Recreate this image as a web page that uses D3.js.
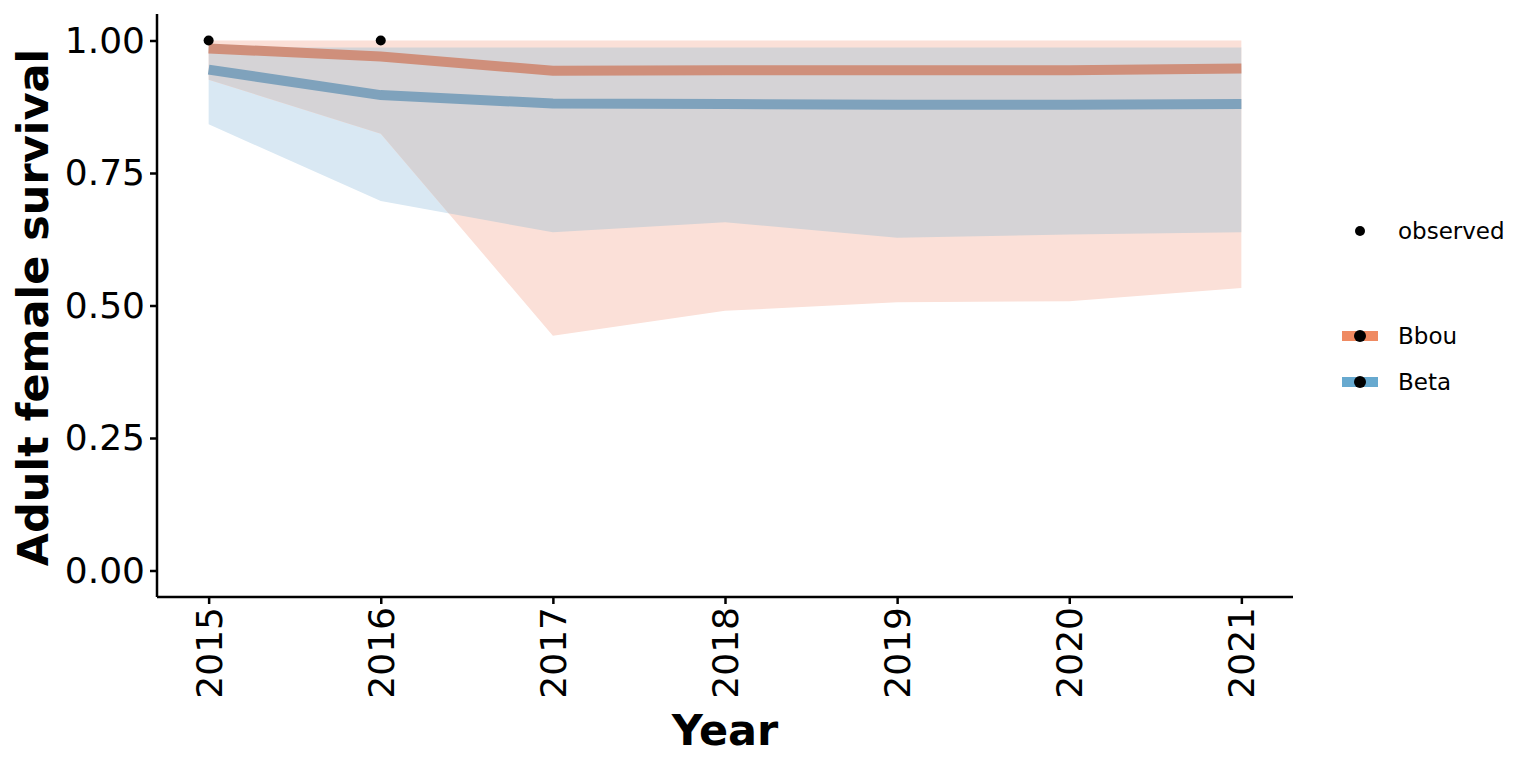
<!DOCTYPE html>
<html>
<head>
<meta charset="utf-8">
<script src="https://cdn.jsdelivr.net/npm/d3@7"></script>
<style>
  html, body { margin: 0; padding: 0; background: #fff; }
  svg { display: block; font-family: "DejaVu Sans", sans-serif; }
</style>
</head>
<body>
<svg id="chart" width="1536" height="768"></svg>
<script>
// ---- data ----
const years = [2015, 2016, 2017, 2018, 2019, 2020, 2021];
const bbouMean  = [0.985, 0.970, 0.943, 0.944, 0.944, 0.944, 0.947];
const bbouLower = [0.926, 0.824, 0.443, 0.490, 0.506, 0.508, 0.533];
const bbouUpper = [1.000, 1.000, 1.000, 1.000, 1.000, 1.000, 1.000];
const betaMean  = [0.945, 0.897, 0.881, 0.880, 0.879, 0.879, 0.880];
const betaLower = [0.842, 0.697, 0.638, 0.657, 0.628, 0.634, 0.638];
const betaUpper = [0.987, 0.987, 0.987, 0.987, 0.987, 0.987, 0.987];
const obsYears  = [2015, 2016];
const obsValues = [1.0, 1.0];
const yTicks = [0, 0.25, 0.5, 0.75, 1.0];
const seriesNames = ["Bbou", "Beta"];

(function () {
// ---- layout ----
const svg = d3.select("#chart");
const pL = 157, pR = 1293, pT = 14, pB = 597;

const x = d3.scaleLinear().domain([2015 - 0.3, 2021 + 0.3]).range([pL, pR]);
const y = d3.scaleLinear().domain([-0.05, 1.05]).range([pB, pT]);

const colors = {
  bbouRibbon: "#fbe0d8", betaRibbon: "#d9e8f3", overlap: "#d5d3d6",
  bbouLine: "#cf8f7b", betaLine: "#7fa2bc",
  bbouKey: "#ef8a62", betaKey: "#67a9cf"
};

const mk = (lo, hi) => years.map((yr, i) => ({ x: yr, lo: lo[i], hi: hi[i] }));
const bbouBand = mk(bbouLower, bbouUpper);
const betaBand = mk(betaLower, betaUpper);

const area = d3.area().x(d => x(d.x)).y0(d => y(d.lo)).y1(d => y(d.hi));
const line = d3.line().x(d => x(d.x)).y(d => y(d.v));

const defs = svg.append("defs");
defs.append("clipPath").attr("id", "betaClip")
  .append("path").attr("d", area(betaBand));

const g = svg.append("g");
g.append("path").attr("d", area(betaBand)).attr("fill", colors.betaRibbon);
g.append("path").attr("d", area(bbouBand)).attr("fill", colors.bbouRibbon);
g.append("path").attr("d", area(bbouBand)).attr("fill", colors.overlap)
  .attr("clip-path", "url(#betaClip)");

g.append("path").datum(years.map((yr, i) => ({ x: yr, v: bbouMean[i] })))
  .attr("d", line).attr("fill", "none").attr("stroke", colors.bbouLine)
  .attr("stroke-width", 10);
g.append("path").datum(years.map((yr, i) => ({ x: yr, v: betaMean[i] })))
  .attr("d", line).attr("fill", "none").attr("stroke", colors.betaLine)
  .attr("stroke-width", 10);

g.selectAll("circle.obs").data(obsYears.map((yr, i) => ({ x: yr, v: obsValues[i] })))
  .enter().append("circle").attr("class", "obs")
  .attr("cx", d => x(d.x)).attr("cy", d => y(d.v)).attr("r", 5).attr("fill", "#000");

// ---- axes ----
const yAxis = d3.axisLeft(y).tickValues(yTicks).tickFormat(d3.format(".2f")).tickSize(7).tickPadding(5);
const xAxis = d3.axisBottom(x).tickValues(years).tickFormat(d3.format("d")).tickSize(7).tickPadding(6);

const ya = svg.append("g").attr("transform", `translate(${pL},0)`).call(yAxis);
ya.select(".domain").attr("d", `M0,${pT}V${pB}`);
const xa = svg.append("g").attr("transform", `translate(0,${pB})`).call(xAxis);
xa.select(".domain").attr("d", `M${pL},0H${pR}`);

[ya, xa].forEach(a => {
  a.select(".domain").attr("stroke", "#000").attr("stroke-width", 2.5);
  a.selectAll(".tick line").attr("stroke", "#000").attr("stroke-width", 2.5);
  a.selectAll(".tick text").attr("fill", "#000").style("font-size", "36px")
    .style("font-family", "DejaVu Sans");
});
xa.selectAll(".tick text")
  .attr("transform", "rotate(-90)")
  .attr("text-anchor", "end")
  .attr("x", -10).attr("y", 0).attr("dy", "0.35em");

// titles
svg.append("text").attr("x", 725).attr("y", 745).attr("text-anchor", "middle")
  .style("font-size", "43px").style("font-weight", "bold").text("Year");
svg.append("text").attr("transform", `translate(48,${(pT + pB) / 2 + 2}) rotate(-90)`)
  .attr("text-anchor", "middle").style("font-size", "43px").style("font-weight", "bold")
  .text("Adult female survival");

// ---- legend ----
const lg = svg.append("g");
lg.append("circle").attr("cx", 1360).attr("cy", 231).attr("r", 5).attr("fill", "#000");
lg.append("text").attr("x", 1398).attr("y", 231).attr("dy", "0.35em")
  .style("font-size", "23px").text("observed");

const keyCols = [colors.bbouKey, colors.betaKey];
const keyY = [336, 382];
seriesNames.forEach((name, i) => {
  lg.append("line").attr("x1", 1342).attr("x2", 1378).attr("y1", keyY[i]).attr("y2", keyY[i])
    .attr("stroke", keyCols[i]).attr("stroke-width", 10);
  lg.append("circle").attr("cx", 1360).attr("cy", keyY[i]).attr("r", 6).attr("fill", "#000");
  lg.append("text").attr("x", 1398).attr("y", keyY[i]).attr("dy", "0.35em")
    .style("font-size", "23px").text(name);
});
})();
</script>
</body>
</html>
